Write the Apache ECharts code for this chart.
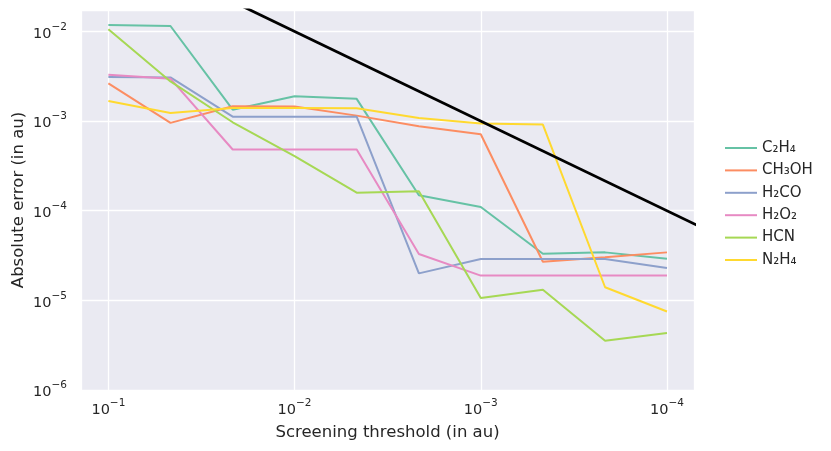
<!DOCTYPE html>
<html>
<head>
<meta charset="utf-8">
<script src="https://cdn.jsdelivr.net/npm/echarts@6/dist/echarts.min.js"></script>
<style>
html,body{margin:0;padding:0;background:#fff;}
#chart{width:831px;height:451px;}
</style>
</head>
<body>
<div id="chart"></div>
<script>
// Screening thresholds (x values)
const thresholds = [0.1, 0.0464, 0.0215, 0.01, 0.00464, 0.00215, 0.001, 0.000464, 0.000215, 0.0001];
const molecules = ['C₂H₄', 'CH₃OH', 'H₂CO', 'H₂O₂', 'HCN', 'N₂H₄'];
const C2H4  = [0.0118, 0.0115, 1.34e-3, 1.89e-3, 1.77e-3, 1.49e-4, 1.10e-4, 3.31e-5, 3.43e-5, 2.91e-5];
const CH3OH = [2.63e-3, 9.55e-4, 1.46e-3, 1.45e-3, 1.15e-3, 8.77e-4, 7.13e-4, 2.70e-5, 3.02e-5, 3.43e-5];
const H2CO  = [3.10e-3, 3.07e-3, 1.12e-3, 1.12e-3, 1.12e-3, 2.00e-5, 2.89e-5, 2.89e-5, 2.89e-5, 2.30e-5];
const H2O2  = [3.29e-3, 2.97e-3, 4.82e-4, 4.82e-4, 4.82e-4, 3.29e-5, 1.89e-5, 1.89e-5, 1.89e-5, 1.89e-5];
const HCN   = [0.01057, 2.77e-3, 9.7e-4, 4.07e-4, 1.59e-4, 1.65e-4, 1.06e-5, 1.31e-5, 3.55e-6, 4.33e-6];
const N2H4  = [1.67e-3, 1.23e-3, 1.40e-3, 1.40e-3, 1.39e-3, 1.08e-3, 9.4e-4, 9.14e-4, 1.40e-5, 7.52e-6];
// reference line y = x
const refX = [0.2, 0.00005];
const refY = [0.2, 0.00005];

const seriesValues = [C2H4, CH3OH, H2CO, H2O2, HCN, N2H4];
const colors = ['#66c2a5', '#fc8d62', '#8da0cb', '#e78ac3', '#a6d854', '#ffd92f'];

const chart = echarts.init(document.getElementById('chart'), null, {renderer: 'canvas'});

function powLabel(v) {
  const l = Math.log10(v);
  const e = Math.round(l);
  if (Math.abs(l - e) > 1e-6) return '';
  return '{b|10}{s|' + (e < 0 ? '\u2212' : '') + Math.abs(e) + '}';
}
const richLbl = {
  b: {fontSize: 14.5, fontFamily: 'DejaVu Sans', color: '#262626', lineHeight: 20, verticalAlign: 'bottom'},
  s: {fontSize: 10.5, fontFamily: 'DejaVu Sans', color: '#262626', lineHeight: 20, verticalAlign: 'top'}
};

const series = molecules.map((name, i) => ({
  name: name,
  type: 'line',
  data: thresholds.map((x, j) => [x, seriesValues[i][j]]),
  symbol: 'none',
  showSymbol: false,
  lineStyle: {width: 2, color: colors[i]},
  itemStyle: {color: colors[i]},
  z: 2
}));
series.push({
  name: 'ref',
  type: 'line',
  data: refX.map((x, j) => [x, refY[j]]),
  symbol: 'none',
  showSymbol: false,
  lineStyle: {width: 2.8, color: '#000'},
  itemStyle: {color: '#000'},
  clip: true,
  z: 3
});

chart.setOption({
  animation: false,
  textStyle: {fontFamily: 'DejaVu Sans'},
  grid: {left: 81, right: 137, top: 10, bottom: 61, show: true, backgroundColor: '#EAEAF2', borderWidth: 0,
         containLabel: false, outerBoundsMode: 'none'},
  legend: {
    data: molecules,
    orient: 'vertical',
    left: 720,
    top: 135.5,
    icon: 'rect',
    itemWidth: 32,
    itemHeight: 2,
    itemGap: 7.4,
    textStyle: {fontSize: 15, color: '#262626', fontFamily: 'DejaVu Sans'}
  },
  xAxis: {
    type: 'log',
    logBase: 10,
    min: 7.16e-5,
    max: 0.1403,
    inverse: true,
    name: 'Screening threshold (in au)',
    nameLocation: 'middle',
    nameGap: 34,
    nameMoveOverlap: false,
    nameTextStyle: {fontSize: 16.5, color: '#262626', fontFamily: 'DejaVu Sans'},
    axisLine: {show: false},
    axisTick: {show: false},
    axisLabel: {margin: 8, formatter: powLabel, rich: richLbl},
    splitLine: {show: true, lineStyle: {color: '#ffffff', width: 1.3}},
    minorSplitLine: {show: false}
  },
  yAxis: {
    type: 'log',
    logBase: 10,
    min: 1e-6,
    max: 0.01734,
    name: 'Absolute error (in au)',
    nameLocation: 'middle',
    nameGap: 54,
    nameMoveOverlap: false,
    nameTextStyle: {fontSize: 16.5, color: '#262626', fontFamily: 'DejaVu Sans'},
    axisLine: {show: false},
    axisTick: {show: false},
    axisLabel: {margin: 14, formatter: powLabel, rich: richLbl},
    splitLine: {show: true, lineStyle: {color: '#ffffff', width: 1.3}}
  },
  series: series
});
</script>
</body>
</html>
